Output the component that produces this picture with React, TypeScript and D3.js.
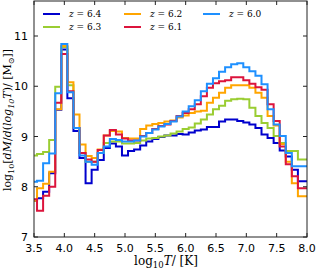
import React from 'react';
import * as d3 from 'd3';

const logT = [3.5, 3.6, 3.7, 3.8, 3.9, 4.0, 4.1, 4.2, 4.3, 4.4, 4.5, 4.6, 4.7, 4.8, 4.9,
  5.0, 5.1, 5.2, 5.3, 5.4, 5.5, 5.6, 5.7, 5.8, 5.9, 6.0, 6.1, 6.2, 6.3, 6.4, 6.5, 6.6, 6.7, 6.8, 6.9,
  7.0, 7.1, 7.2, 7.3, 7.4, 7.5, 7.6, 7.7, 7.8, 7.9, 8.0];

const z64 = [7.72, 7.77, 7.9, 8.27, 9.53,
  10.73, 9.76, 9.11, 8.57, 8.07, 8.34, 8.53, 8.77, 8.86, 8.8,
  8.62, 8.71, 8.74, 8.82, 8.9, 8.95, 8.99, 9.02, 9.02, 9.05,
  9.04, 9.08, 9.12, 9.14, 9.19, 9.19, 9.3, 9.34, 9.34, 9.31,
  9.28, 9.24, 9.17, 9.04, 8.97, 8.87, 8.72, 8.6, 8.34, 8.11,
  8.11];

const z63 = [8.62, 8.65, 8.69, 8.93, 9.99,
  10.78, 10.02, 9.17, 8.67, 8.5, 8.5, 8.67, 8.87, 8.9, 8.9,
  8.86, 8.86, 8.87, 8.92, 8.96, 8.97, 9.0, 9.02, 9.06, 9.1,
  9.15, 9.18, 9.26, 9.34, 9.44, 9.54, 9.61, 9.71, 9.74, 9.75,
  9.74, 9.57, 9.41, 9.27, 9.17, 9.01, 8.87, 8.71, 8.71, 8.54,
  8.54];

const z62 = [7.72, 7.97, 8.06, 8.3, 9.54,
  10.8, 10.08, 9.44, 8.84, 8.61, 8.57, 8.74, 9.02, 9.11, 9.1,
  8.97, 8.96, 8.96, 9.15, 9.22, 9.25, 9.27, 9.3, 9.32, 9.38,
  9.42, 9.47, 9.5, 9.51, 9.67, 9.77, 9.87, 9.97, 10.02, 10.02,
  10.02, 9.97, 9.87, 9.77, 9.41, 9.22, 8.85, 8.5, 8.07, 7.81,
  7.81];

const z61 = [7.75, 7.52, 7.82, 8.0, 9.67,
  10.64, 9.9, 9.17, 8.67, 8.54, 8.5, 8.73, 9.02, 9.13, 9.04,
  8.96, 8.92, 8.92, 9.01, 9.07, 9.15, 9.21, 9.24, 9.31, 9.41,
  9.47, 9.54, 9.64, 9.8, 9.97, 10.06, 10.1, 10.12, 10.18, 10.18,
  10.12, 10.05, 9.98, 9.93, 9.64, 9.31, 8.8, 8.45, 8.21, 7.97,
  7.97];

const z60 = [8.10, 8.12, 8.47, 8.66, 9.86,
  10.84, 9.88, 9.17, 8.62, 8.5, 8.44, 8.67, 8.8, 8.95, 8.93,
  8.9, 8.9, 8.92, 9.0, 9.07, 9.14, 9.2, 9.25, 9.3, 9.4,
  9.5, 9.6, 9.72, 9.9, 10.05, 10.16, 10.29, 10.38, 10.44, 10.46,
  10.38, 10.3, 10.21, 10.04, 9.54, 9.24, 9.01, 8.67, 8.41, 8.41,
  8.41];

const redshifts = ['6.4', '6.3', '6.2', '6.1', '6.0'];
const seriesValues = [z64, z63, z62, z61, z60];
const colors = ['#0000cd', '#9acd32', '#ffa500', '#dc143c', '#1e90ff'];

const xTicks = [3.5, 4.0, 4.5, 5.0, 5.5, 6.0, 6.5, 7.0, 7.5, 8.0];
const yTicks = [7, 8, 9, 10, 11];

export default function App() {
  const W = 318, H = 270;
  const left = 34, right = 307, bottom = 237, top = 1;
  const x = d3.scaleLinear().domain([3.5, 8.0]).range([left, right]);
  const y = d3.scaleLinear().domain([7, 11]).range([bottom, 36]);
  const line = d3.line<number>()
    .x((d, i) => x(logT[i]))
    .y((d) => y(d))
    .curve(d3.curveStep);

  const serif = '"DejaVu Serif", "Liberation Serif", serif';
  const sans = '"DejaVu Sans", sans-serif';
  const tickLen = 4;
  const frame = '#222';

  const legendCols = [43, 124, 203];
  const legendRows = [14, 27];

  return (
    <svg width={W} height={H} style={{ position: 'absolute', left: 0, top: 0, background: '#fff' }}
      xmlns="http://www.w3.org/2000/svg">
      <rect x={0} y={0} width={W} height={H} fill="#fff" />
      {seriesValues.map((vals, k) => (
        <path key={k} d={line(vals) || ''} fill="none" stroke={colors[k]} strokeWidth={2}
          strokeLinejoin="miter" />
      ))}
      <rect x={left} y={top} width={right - left} height={bottom - top} fill="none" stroke={frame} strokeWidth={1} />
      {xTicks.map((t) => (
        <g key={'xt' + t}>
          <line x1={x(t)} x2={x(t)} y1={bottom} y2={bottom - tickLen} stroke={frame} />
          <line x1={x(t)} x2={x(t)} y1={top} y2={top + tickLen} stroke={frame} />
          <text x={x(t)} y={252} textAnchor="middle" fontFamily={sans} fontSize={11} fill="#000">{t.toFixed(1)}</text>
        </g>
      ))}
      {yTicks.map((t) => (
        <g key={'yt' + t}>
          <line x1={left} x2={left + tickLen} y1={y(t)} y2={y(t)} stroke={frame} />
          <line x1={right} x2={right - tickLen} y1={y(t)} y2={y(t)} stroke={frame} />
          <text x={28} y={y(t) + 4} textAnchor="end" fontFamily={sans} fontSize={11} fill="#000">{t}</text>
        </g>
      ))}
      <text x={166} y={265} textAnchor="middle" fontFamily={serif} fontSize={12} fill="#000">
        log<tspan fontSize={8.5} dy={3}>10</tspan><tspan dy={-3} fontStyle="italic">T</tspan>/ [K]
      </text>
      <text transform={`translate(11,120) rotate(-90)`} textAnchor="middle" fontFamily={serif} fontSize={11} fill="#000">
        log<tspan fontSize={8} dy={3}>10</tspan><tspan dy={-3}>[</tspan><tspan fontStyle="italic">dM</tspan>/<tspan fontStyle="italic">d</tspan>(<tspan fontStyle="italic">log</tspan><tspan fontSize={8} dy={3} fontStyle="italic">10</tspan><tspan dy={-3} fontStyle="italic">T</tspan>)/ [M<tspan fontSize={8} dy={3}>⊙</tspan><tspan dy={-3}>]]</tspan>
      </text>
      {redshifts.map((z, k) => {
        const col = Math.floor(k / 2);
        const row = k % 2;
        const lx = legendCols[col];
        const ly = legendRows[row];
        return (
          <g key={'lg' + z}>
            <line x1={lx} x2={lx + 17} y1={ly} y2={ly} stroke={colors[k]} strokeWidth={2} />
            <text x={lx + 26} y={ly + 3} fontFamily={serif} fontSize={9} fill="#000">
              <tspan fontStyle="italic">z</tspan> = {z}
            </text>
          </g>
        );
      })}
    </svg>
  );
}
